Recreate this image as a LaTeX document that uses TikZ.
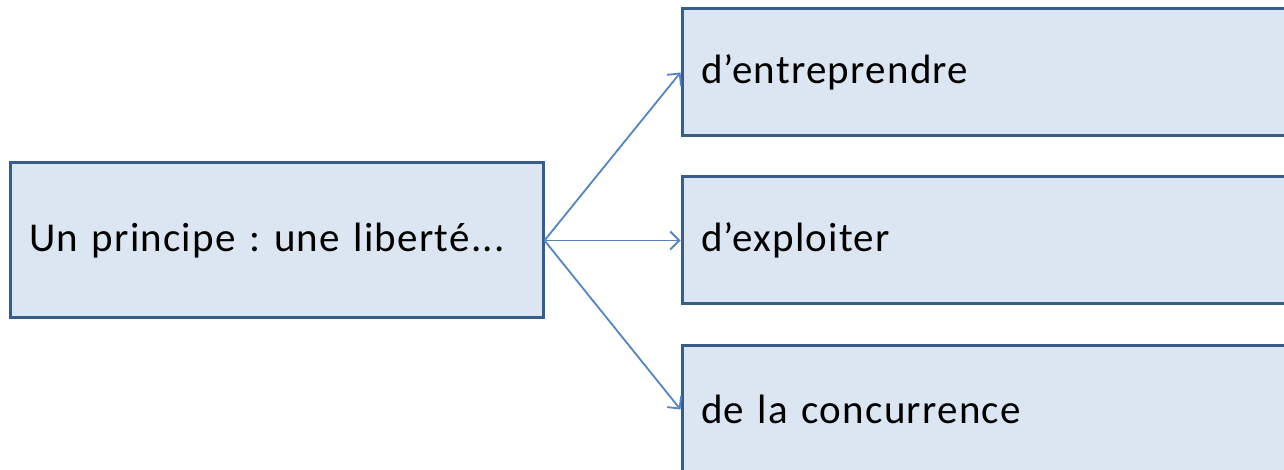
\documentclass[tikz,border=0pt]{standalone}
\usepackage{fontspec}
\setmainfont{Carlito}[LetterSpace=3]
\usepackage{tikz}
\usetikzlibrary{positioning}
\usetikzlibrary{arrows.meta}
\definecolor{boxfill}{HTML}{DCE6F2}
\definecolor{boxline}{HTML}{385D8A}
\definecolor{arrowline}{HTML}{5585C0}
\frenchspacing

\begin{document}
\begin{tikzpicture}[x=1pt,y=1pt,
	box/.style={draw=boxline,line width=3pt,fill=boxfill,
		inner xsep=19pt,inner ysep=0pt,align=left,
		font=\fontsize{41}{49}\selectfont},
	main/.style={box,text width=495pt,minimum height=155pt},
	branch/.style={box,text width=566pt,minimum height=127pt},
	link/.style={draw=arrowline,line width=1.8pt,-{Straight Barb[length=9pt,width=18pt]}}]
  \useasboundingbox (0,0) rectangle (1284,470);
  \node[main] (principe) at (276.5,229.5) {Un principe : une libert\'e...};
  \node[branch] (entreprendre) at (984,397.5) {d’entreprendre};
  \node[branch] (exploiter) at (984,229.5) {d’exploiter};
  \node[branch] (concurrence) at (984,60.5) {de la concurrence};
  \draw[link] (principe.east) -- (entreprendre.west);
  \draw[link] (principe.east) -- (exploiter.west);
  \draw[link] (principe.east) -- (concurrence.west);
\end{tikzpicture}
\end{document}
